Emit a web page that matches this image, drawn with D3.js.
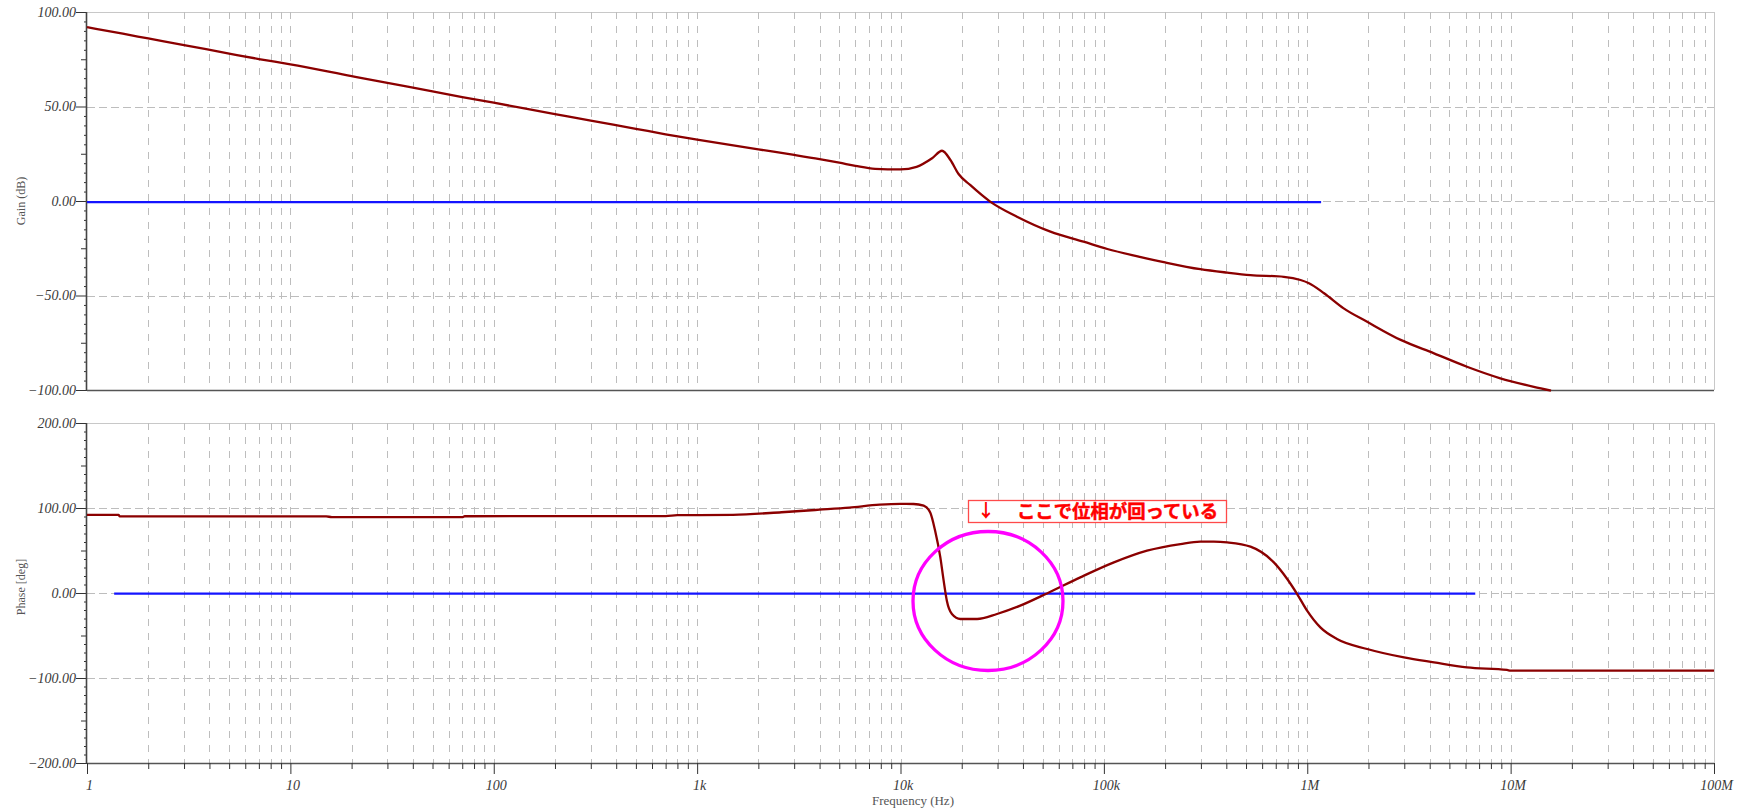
<!DOCTYPE html>
<html>
<head>
<meta charset="utf-8">
<script src="https://cdn.jsdelivr.net/npm/d3@7"></script>
<style>
  html, body { margin: 0; padding: 0; background: #fff; }
  svg { display: block; }
</style>
</head>
<body>
<svg id="chart" width="1751" height="811"></svg>
<script>
// ---- data ----
const freqDecades = [1, 10, 100, 1e3, 1e4, 1e5, 1e6, 1e7, 1e8];
const freqLabels = ["1", "10", "100", "1k", "10k", "100k", "1M", "10M", "100M"];

const gainTicks = [100, 50, 0, -50, -100];
const phaseTicks = [200, 100, 0, -100, -200];

// loop gain (dB) vs frequency (Hz)
const gainFreq = [1, 1.5, 2, 3, 5, 7, 10, 20, 30, 50, 70, 100, 200, 300, 500, 700,
  1000, 2000, 3000, 4000, 5000, 6000, 7500, 10000, 12000, 14300, 16000, 17600, 19300,
  22000, 27600, 37400, 54600, 79400, 104000, 150000, 200000, 298000, 404000, 526000,
  767000, 927000, 1.02e6, 1.21e6, 1.51e6, 1.97e6, 2.88e6, 4.2e6, 6.1e6, 8.9e6, 1.3e7, 1.58e7];
const gainDb = [92.0, 88.5, 86.0, 82.5, 78.0, 75.1, 72.3, 66.1, 62.5, 58.0, 55.0, 52.0,
  46.0, 42.5, 38.2, 35.3, 32.5, 27.3, 24.4, 22.2, 20.3, 18.6, 17.0, 16.7, 18.1, 22.6,
  26.6, 21.7, 14.3, 8.5, -0.3, -8.3, -16.2, -21.5, -25.4, -29.5, -32.5, -36.1, -37.9,
  -39.2, -40.1, -41.8, -43.5, -48.8, -56.8, -63.9, -73.5, -80.6, -87.7, -93.8, -98.3, -100.3];

// loop phase (deg) vs frequency (Hz)
const phaseFreq = [1, 1.43, 1.45, 15, 16, 70, 72, 700, 800, 1500, 2600, 4000, 5600, 7900,
  10000, 11600, 13000, 14000, 14800, 15700, 16300, 16900, 17900, 19700, 23800, 29800,
  38800, 52500, 76600, 112000, 163000, 238000, 298000, 347000, 404000, 526000, 685000,
  797000, 892000, 998000, 1.16e6, 1.4e6, 1.97e6, 2.99e6, 4.2e6, 6.1e6, 9.6e6, 1e7, 1e8];
const phaseDeg = [91.8, 91.8, 90.1, 90.1, 89.3, 89.3, 90.3, 90.5, 91.5, 92.0, 95.0, 98.0,
  100.5, 103.9, 104.8, 104.7, 102.7, 94.8, 73.3, 41.9, 14.5, -9.1, -24.7, -30.6, -30.6,
  -24.7, -14.9, -0.5, 18.4, 36.0, 49.8, 57.6, 60.4, 60.4, 59.5, 54.5, 36.0, 16.5, -1.2,
  -20.8, -40.5, -54.1, -65.9, -75.8, -81.6, -87.5, -90.5, -91.4, -91.4];

// reference traces
const refGainFreq = [1, 1.17e6];
const refGainDb = [-0.6, -0.6];
const refPhaseFreq = [1.36, 6.7e6];
const refPhaseDeg = [-0.8, -0.8];

const noteText = "ここで位相が回っている";
const noteArrow = "↓";

// ---- layout ----
const svg = d3.select("#chart");
const left = 87, right = 1714;
const gainTop = 12, gainBottom = 390;
const phaseTop = 423, phaseBottom = 763;

const x = d3.scaleLog().domain([1, 1e8]).range([left, right]);
const yGain = d3.scaleLinear().domain([-100, 100]).range([gainBottom, gainTop]);
const yPhase = d3.scaleLinear().domain([-200, 200]).range([phaseBottom, phaseTop]);

const minorFreqs = [];
freqDecades.slice(0, -1).forEach(d => { for (let k = 2; k <= 9; k++) minorFreqs.push(d * k); });
const allFreqGrid = freqDecades.concat(minorFreqs);

const serif = "'Liberation Serif', 'DejaVu Serif', serif";
const fmt = d3.format(".2f");

function panel(y, top, bottom, ticks, step, medium, label, labelY) {
  const g = svg.append("g");
  // frame (light)
  g.append("line").attr("x1", left).attr("x2", right).attr("y1", top + 0.5).attr("y2", top + 0.5)
    .attr("stroke", "#c8c8c8").attr("stroke-width", 1);
  g.append("line").attr("x1", right + 0.5).attr("x2", right + 0.5).attr("y1", top).attr("y2", bottom)
    .attr("stroke", "#c8c8c8").attr("stroke-width", 1);

  // vertical grid
  g.append("g").selectAll("line").data(allFreqGrid.filter(f => f > 1 && f < 1e8)).join("line")
    .attr("x1", d => Math.round(x(d)) + 0.5).attr("x2", d => Math.round(x(d)) + 0.5)
    .attr("y1", top).attr("y2", bottom)
    .attr("stroke", "#bdbdbd").attr("stroke-width", 1).attr("stroke-dasharray", "7,7");

  // horizontal grid
  g.append("g").selectAll("line").data(ticks.slice(1, -1)).join("line")
    .attr("x1", left).attr("x2", right)
    .attr("y1", d => Math.round(y(d)) + 0.5).attr("y2", d => Math.round(y(d)) + 0.5)
    .attr("stroke", "#bdbdbd").attr("stroke-width", 1).attr("stroke-dasharray", "8,4");

  // minor y ticks
  const [lo, hi] = y.domain();
  const minor = d3.range(lo, hi + 0.001, step).filter(v => !ticks.includes(v));
  g.append("g").attr("transform", `translate(${left},0)`)
    .call(d3.axisLeft(y).tickValues(minor.filter(v => v % medium !== 0)).tickSize(3).tickFormat(""))
    .call(a => a.select(".domain").remove())
    .selectAll("line").attr("stroke", "#333");
  g.append("g").attr("transform", `translate(${left},0)`)
    .call(d3.axisLeft(y).tickValues(minor.filter(v => v % medium === 0)).tickSize(6).tickFormat(""))
    .call(a => a.select(".domain").remove())
    .selectAll("line").attr("stroke", "#333");

  // major y ticks with labels
  const ax = g.append("g").attr("transform", `translate(${left},0)`)
    .call(d3.axisLeft(y).tickValues(ticks).tickSize(11).tickPadding(0).tickFormat(fmt));
  ax.select(".domain").remove();
  ax.selectAll("line").attr("stroke", "#333");
  ax.selectAll("text").attr("font-family", serif).attr("font-style", "italic")
    .attr("font-size", 14).attr("fill", "#3a3a3a");

  // axis lines
  g.append("line").attr("x1", left - 0.5).attr("x2", left - 0.5).attr("y1", top).attr("y2", bottom + 0.5)
    .attr("stroke", "#444").attr("stroke-width", 1.6);
  g.append("line").attr("x1", left).attr("x2", right).attr("y1", bottom + 0.5).attr("y2", bottom + 0.5)
    .attr("stroke", "#555").attr("stroke-width", 1.6);

  // y title
  g.append("text")
    .attr("transform", `translate(21,${labelY}) rotate(-90)`)
    .attr("text-anchor", "middle").attr("dy", "0.35em")
    .attr("font-family", serif).attr("font-size", 12).attr("fill", "#555")
    .text(label);
  return g;
}

panel(yGain, gainTop, gainBottom, gainTicks, 5, 25, "Gain (dB)", 201);
panel(yPhase, phaseTop, phaseBottom, phaseTicks, 10, 50, "Phase [deg]", 587);

// frequency axis (bottom panel)
const xMinor = svg.append("g").attr("transform", `translate(0,${phaseBottom})`)
  .call(d3.axisBottom(x).tickValues(minorFreqs).tickSize(6).tickFormat(""));
xMinor.select(".domain").remove();
xMinor.selectAll("line").attr("stroke", "#333");
const xMajor = svg.append("g").attr("transform", `translate(0,${phaseBottom})`)
  .call(d3.axisBottom(x).tickValues(freqDecades).tickSize(11).tickPadding(6)
    .tickFormat((d, i) => freqLabels[i]));
xMajor.select(".domain").remove();
xMajor.selectAll("line").attr("stroke", "#333");
xMajor.selectAll("text").attr("font-family", serif).attr("font-style", "italic")
  .attr("font-size", 14).attr("fill", "#3a3a3a").attr("dx", 2);

svg.append("text").attr("x", 913).attr("y", 805).attr("text-anchor", "middle")
  .attr("font-family", serif).attr("font-size", 13).attr("fill", "#555")
  .text("Frequency (Hz)");

// traces
function trace(fs, vs, y, color) {
  const pts = fs.map((f, i) => [f, vs[i]]);
  svg.append("path").datum(pts)
    .attr("fill", "none").attr("stroke", color).attr("stroke-width", 2.3)
    .attr("stroke-linejoin", "round")
    .attr("d", d3.line().x(d => x(d[0])).y(d => y(d[1])).curve(d3.curveMonotoneX));
}
trace(refGainFreq, refGainDb, yGain, "#1414ff");
trace(gainFreq, gainDb, yGain, "#8b0000");
trace(refPhaseFreq, refPhaseDeg, yPhase, "#1414ff");
trace(phaseFreq, phaseDeg, yPhase, "#8b0000");

// annotation
const note = svg.append("g");
note.append("rect").attr("x", 968.5).attr("y", 500.5).attr("width", 258).attr("height", 22)
  .attr("fill", "#fff").attr("stroke", "#ff4a4a").attr("stroke-width", 1.3);
note.append("text").attr("x", 986).attr("y", 517).attr("text-anchor", "middle")
  .attr("font-family", "'Noto Sans CJK JP', sans-serif").attr("font-weight", "bold")
  .attr("font-size", 18).attr("fill", "#ff0000").text(noteArrow);
note.append("text").attr("x", 1017).attr("y", 518)
  .attr("font-family", "'Noto Sans CJK JP', sans-serif").attr("font-weight", "bold")
  .attr("font-size", 18).attr("fill", "#ff0000")
  .attr("stroke", "#ff0000").attr("stroke-width", 0.5)
  .attr("textLength", 201).attr("lengthAdjust", "spacingAndGlyphs")
  .text(noteText);

svg.append("ellipse").attr("cx", 988).attr("cy", 601).attr("rx", 75).attr("ry", 69.5)
  .attr("fill", "none").attr("stroke", "#ff00ff").attr("stroke-width", 3.3);
</script>
</body>
</html>
